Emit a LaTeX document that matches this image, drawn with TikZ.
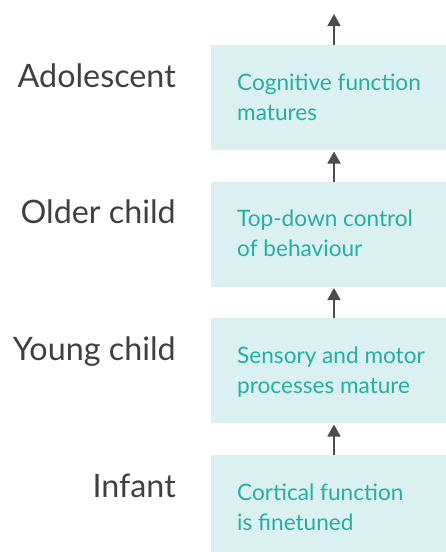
\documentclass[tikz,border=0pt]{standalone}
\usepackage{fontspec}
\setmainfont{Lato}
\usetikzlibrary{arrows.meta}
\definecolor{boxfill}{HTML}{DAF0F1}
\definecolor{boxtext}{HTML}{26AFA1}
\definecolor{lbl}{HTML}{404040}
\definecolor{arr}{HTML}{4D4D4D}
\begin{document}
\begin{tikzpicture}[x=1pt,y=-1pt,
  stage/.style={fill=boxfill, minimum width=246pt, minimum height=105pt, anchor=north west, inner sep=0pt, outer sep=0pt},
  boxtxt/.style={anchor=base west, align=left, inner sep=0pt, text=boxtext, font=\fontsize{22.6}{30.5}\selectfont},
  agelbl/.style={anchor=base east, inner sep=0pt, text=lbl, font=\fontsize{32.3}{36}\selectfont},
  uparrow/.style={draw=arr, line width=1.8pt, -{Triangle[length=12pt,width=13pt]}}
]
\useasboundingbox (0,0) rectangle (446,552);
\clip (0,0) rectangle (446,552);
\node[stage] (b1) at (211,45) {};
\node[stage] (b2) at (211,181.5) {};
\node[stage] (b3) at (211,318) {};
\node[stage, minimum height=110pt] (b4) at (211,455) {};
\node[boxtxt] (t1) at (237,120.5) {Cognitive function\\matures};
\node[boxtxt] (t2) at (237,256.5) {Top-down control\\of behaviour};
\node[boxtxt] (t3) at (237,393.5) {Sensory and motor\\processes mature};
\node[boxtxt] (t4) at (237,530.5) {Cortical function\\is finetuned};
\node[agelbl] (l1) at (176,87) {Adolescent};
\node[agelbl] (l2) at (176,223.5) {Older child};
\node[agelbl] (l3) at (176,360) {Young child};
\node[agelbl] (l4) at (176,497) {Infant};
\coordinate (top) at (334,14);
\draw[uparrow] (b1.north) -- (top);
\draw[uparrow] (b2.north) -- ([yshift=-1.5pt]b1.south);
\draw[uparrow] (b3.north) -- ([yshift=-1.5pt]b2.south);
\draw[uparrow] (b4.north) -- ([yshift=-1.5pt]b3.south);
\end{tikzpicture}
\end{document}
